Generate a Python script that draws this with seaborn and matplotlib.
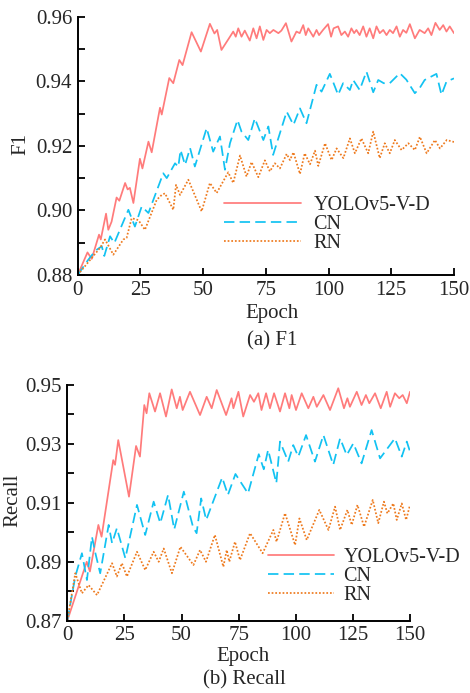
import numpy as np
import pandas as pd
import matplotlib
matplotlib.use("Agg")
import matplotlib.pyplot as plt
import seaborn as sns
from matplotlib.ticker import MultipleLocator, FormatStrFormatter

# =========================
# DATA
# =========================
models = ["YOLOv5-V-D", "CN", "RN"]

# (a) F1
f1_yolo_ep = [0, 3.9, 5.6, 8.5, 9.2, 11.3, 12.2, 13.5, 15.5, 16.6,
              18.9, 19.9, 20.8, 22.2, 24.8, 25.8, 28.2, 29.5, 32.8, 33.5,
              36.5, 38.1, 40.5, 41.8, 45.4, 49.1, 52.7, 54.5, 55.6, 57.3,
              60.7, 62, 63, 64, 65.3, 66.6, 68.6, 70, 71.3, 72.6,
              74, 75.3, 76.6, 78, 80, 81.2, 83, 85.2, 87.2, 88.5,
              89.9, 90.9, 91.9, 93.9, 95.2, 96.2, 97.8, 99.8, 101, 102,
              103.8, 105.1, 106.5, 107.8, 109.1, 110.2, 111.1, 112.4, 113.8, 115.1,
              116.4, 117.8, 119.1, 120.4, 121.8, 123.1, 124.4, 125.7, 127.1, 128.4,
              129.7, 131, 132.4, 134.4, 136.3, 138.3, 139.7, 141, 142.6, 144.3,
              145.7, 147, 148.3, 150]
f1_yolo = [0.880, 0.887, 0.885, 0.8925, 0.891, 0.899, 0.894, 0.8965, 0.904, 0.903,
           0.9085, 0.9065, 0.907, 0.9023, 0.916, 0.913, 0.9213, 0.918, 0.9318, 0.9297,
           0.941, 0.9394, 0.9466, 0.945, 0.9552, 0.9492, 0.9578, 0.9548, 0.9559, 0.9497,
           0.9538, 0.9554, 0.9538, 0.9564, 0.9538, 0.9557, 0.9526, 0.9564, 0.9533, 0.957,
           0.9528, 0.9559, 0.9549, 0.9559, 0.9549, 0.9557, 0.958, 0.9523, 0.9554, 0.9549,
           0.9574, 0.9543, 0.9564, 0.9538, 0.9559, 0.9543, 0.9559, 0.9577, 0.9538, 0.9564,
           0.957, 0.9543, 0.9554, 0.9538, 0.9564, 0.9549, 0.9559, 0.9543, 0.957, 0.9538,
           0.9564, 0.9533, 0.957, 0.9549, 0.9559, 0.9543, 0.9559, 0.9549, 0.957, 0.9538,
           0.9559, 0.955, 0.9577, 0.9533, 0.9559, 0.9549, 0.9564, 0.9543, 0.9581, 0.9559,
           0.9574, 0.9554, 0.957, 0.9549]

f1_cn_ep = [0, 4, 7, 9.6, 10.6, 12.9, 14.6, 20.2, 22.8, 25.5,
            28.2, 34.1, 35.5, 38.8, 40.1, 41, 42.8, 44.8, 46.7, 51.4,
            54, 56.7, 58.7, 60.7, 63.7, 65.3, 68, 70.6, 74, 76,
            77.9, 83.3, 86, 88.6, 91.2, 95.2, 97.2, 100.5, 102, 103.8,
            105.8, 108.5, 109.8, 112.4, 115.1, 117.8, 119.8, 122, 124.4, 128.4,
            131, 134.4, 136.4, 138.3, 143, 145, 147, 150]
f1_cn = [0.88, 0.8845, 0.8875, 0.8889, 0.8859, 0.892, 0.8899, 0.9002, 0.895, 0.9012,
         0.8992, 0.9115, 0.91, 0.9146, 0.9135, 0.9187, 0.9141, 0.9193, 0.9136, 0.9255,
         0.9182, 0.9229, 0.9126, 0.9208, 0.928, 0.9244, 0.9218, 0.9285, 0.9218, 0.926,
         0.9172, 0.9306, 0.9265, 0.9316, 0.927, 0.9389, 0.9368, 0.9423, 0.9394, 0.9358,
         0.9394, 0.9373, 0.9404, 0.9373, 0.943, 0.9366, 0.9404, 0.9394, 0.9394, 0.9425,
         0.9405, 0.9363, 0.938, 0.9404, 0.9423, 0.9358, 0.9399, 0.9409]

f1_rn_ep = [0, 8.9, 10.9, 14.2, 18.2, 19.5, 21.5, 24.2, 26.8, 31.5,
            33.5, 34.8, 38.1, 39.2, 40.8, 44.1, 49.4, 52.7, 55.4, 60,
            62, 64.7, 67.3, 69.3, 72, 74.6, 76.6, 78.6, 80.6, 83.3,
            84.6, 86, 88.6, 90.5, 92.6, 94.6, 95.9, 98.6, 101.2, 103.2,
            105.9, 108.5, 110.5, 113.1, 115.8, 117.8, 120.4, 122.4, 124.4, 126.4,
            129.1, 131.8, 134.4, 136.4, 139.1, 142.4, 144.4, 147.1, 150]
f1_rn = [0.88, 0.8884, 0.891, 0.8863, 0.891, 0.8915, 0.8976, 0.897, 0.894, 0.9033,
         0.9048, 0.9053, 0.9002, 0.9079, 0.9048, 0.9095, 0.8997, 0.9085, 0.9054, 0.9118,
         0.9085, 0.917, 0.9105, 0.915, 0.9103, 0.9155, 0.9121, 0.9146, 0.913, 0.9175,
         0.9156, 0.918, 0.9113, 0.9177, 0.9143, 0.9185, 0.9138, 0.9208, 0.9156, 0.9192,
         0.9162, 0.9223, 0.9177, 0.9223, 0.9177, 0.9244, 0.9162, 0.9208, 0.9177, 0.9218,
         0.9187, 0.9208, 0.9187, 0.9228, 0.9177, 0.9218, 0.9192, 0.9218, 0.9212]

# (b) Recall
rec_yolo_ep = [0, 8.5, 9.9, 13.6, 15, 20.1, 20.9, 22.3, 27, 30.1,
               31.8, 33.7, 34.7, 35.9, 38.4, 40.6, 43.2, 45.7, 47.9, 49.3,
               50.5, 53.7, 58.1, 61, 63.2, 65.4, 69.5, 71.9, 72.7, 74.9,
               77, 80, 81.7, 83.6, 85, 87, 88.7, 90.5, 93.1, 95.3,
               97.2, 98.2, 100.1, 102.6, 105.5, 107.7, 109.2, 112.1, 115, 118.6,
               121.1, 122.6, 123.7, 126.7, 128.8, 130.7, 132.2, 134.7, 137.2, 139.8,
               141.3, 143.4, 145.3, 146.8, 148.6, 150]
rec_yolo = [0.87, 0.89, 0.8867, 0.9025, 0.8985, 0.9245, 0.9229, 0.9313, 0.9121, 0.9293,
            0.9257, 0.9432, 0.9404, 0.9472, 0.941, 0.9472, 0.9393, 0.9485, 0.9421, 0.946,
            0.9415, 0.9477, 0.9398, 0.946, 0.9421, 0.9483, 0.9398, 0.9455, 0.9421, 0.9477,
            0.9393, 0.9466, 0.9443, 0.9472, 0.9415, 0.9472, 0.9421, 0.9472, 0.941, 0.9472,
            0.9421, 0.9466, 0.9415, 0.9472, 0.9421, 0.946, 0.9426, 0.9466, 0.9415, 0.9489,
            0.9421, 0.9455, 0.9426, 0.9477, 0.9432, 0.9466, 0.9438, 0.9472, 0.9421, 0.9477,
            0.9426, 0.9472, 0.9455, 0.9466, 0.9438, 0.9477]

rec_cn_ep = [0, 3.5, 6.4, 8.6, 10.8, 12.3, 14.4, 18.1, 19.6, 21.7,
             25.4, 30.5, 34.1, 37.8, 40.7, 44.1, 46.8, 51, 55, 56.6,
             58.6, 60.8, 67.8, 70.3, 73.6, 79.1, 83.8, 86, 87.9, 91.5,
             93.1, 96.7, 98.9, 101.1, 104.5, 108.4, 112.1, 116.4, 119.4, 122.3,
             125.2, 128.8, 133.2, 136.9, 143.4, 146.4, 148.6, 150]
rec_cn = [0.87, 0.885, 0.8929, 0.8838, 0.8985, 0.8929, 0.8861, 0.9025, 0.8963, 0.9014,
          0.8912, 0.9093, 0.8991, 0.9104, 0.9031, 0.9127, 0.901, 0.9138, 0.9019, 0.8997,
          0.9115, 0.9042, 0.9186, 0.9127, 0.9198, 0.9132, 0.9265, 0.9214, 0.928, 0.9167,
          0.9308, 0.924, 0.9296, 0.9257, 0.933, 0.924, 0.933, 0.9229, 0.9319, 0.9262,
          0.9302, 0.9234, 0.9347, 0.9251, 0.9319, 0.9257, 0.9308, 0.9274]

rec_rn_ep = [0, 3.5, 6.4, 9.3, 13, 19.6, 21.7, 23.9, 26.1, 30.5,
             34.1, 37.8, 40, 42.2, 45.8, 49.5, 55.2, 58.1, 60.7, 64.6,
             68.3, 69.8, 70.9, 73.4, 75.6, 80, 85.5, 90.2, 91.6, 95.3,
             99.7, 101.6, 104.8, 110.3, 114.3, 117.2, 119.4, 122.6, 124.5, 127,
             129.9, 133.7, 136.1, 138.6, 140.1, 142.7, 144.2, 146.4, 148.3, 150]
rec_rn = [0.87, 0.8861, 0.8793, 0.8821, 0.8787, 0.8895, 0.885, 0.8895, 0.885, 0.8934,
          0.8872, 0.8934, 0.89, 0.8945, 0.8861, 0.8951, 0.8889, 0.894, 0.89, 0.8991,
          0.8883, 0.894, 0.89, 0.8968, 0.8906, 0.8997, 0.8929, 0.9008, 0.8968, 0.9065,
          0.8957, 0.9047, 0.8974, 0.9076, 0.9008, 0.9087, 0.9008, 0.9076, 0.9025, 0.9093,
          0.9019, 0.911, 0.9031, 0.9104, 0.9064, 0.9098, 0.9042, 0.9098, 0.9042, 0.9093]

# tick labels
f1_ticks = [0.88, 0.90, 0.92, 0.94, 0.96]
rec_ticks = [0.87, 0.89, 0.91, 0.93, 0.95]
epoch_ticks = [0, 25, 50, 75, 100, 125, 150]

# =========================
# STYLE
# =========================
sns.set_style("ticks")
plt.rcParams["font.family"] = ["Liberation Serif", "DejaVu Serif"]
plt.rcParams["font.size"] = 15

colors = {"YOLOv5-V-D": "#ff7b7b", "CN": "#12c2f2", "RN": "#ee7a1e"}
dashes = {"YOLOv5-V-D": "", "CN": (6, 3), "RN": (1, 1.1)}


def long_form(eps, vals, col):
    frames = []
    for m, e, v in zip(models, eps, vals):
        frames.append(pd.DataFrame({"Epoch": e, col: v, "Model": m}))
    return pd.concat(frames, ignore_index=True)


df_f1 = long_form([f1_yolo_ep, f1_cn_ep, f1_rn_ep], [f1_yolo, f1_cn, f1_rn], "F1")
df_rec = long_form([rec_yolo_ep, rec_cn_ep, rec_rn_ep], [rec_yolo, rec_cn, rec_rn], "Recall")

fig = plt.figure(figsize=(4.7, 6.93), dpi=100)
ax1 = fig.add_axes([77.7 / 470, 1 - 275 / 693, 376.3 / 470, 258.3 / 693])
ax2 = fig.add_axes([67.3 / 470, 1 - 620.7 / 693, 342.7 / 470, 235.7 / 693])


def draw(ax, df, col, yticks, leg_anchor, hlen, lspace, tpad):
    sns.lineplot(data=df, x="Epoch", y=col, hue="Model", style="Model",
                 palette=colors, dashes=dashes, hue_order=models, style_order=models,
                 linewidth=1.25, ax=ax, estimator=None, sort=False)
    ax.set_xlim(epoch_ticks[0], epoch_ticks[-1])
    ax.set_ylim(yticks[0], yticks[-1])
    ax.set_xticks(epoch_ticks)
    ax.set_yticks(yticks)
    ax.yaxis.set_minor_locator(MultipleLocator(0.01))
    ax.yaxis.set_major_formatter(FormatStrFormatter("%.2f"))
    ax.tick_params(which="both", direction="in", length=5, width=1.3,
                   labelsize=15, pad=4, color="black")
    for side in ["top", "right"]:
        ax.spines[side].set_visible(False)
    for side in ["left", "bottom"]:
        ax.spines[side].set_linewidth(1.4)
        ax.spines[side].set_color("black")
    ax.set_xlabel("Epoch", fontsize=15)
    ax.set_ylabel(col, fontsize=15)
    handles, labels = ax.get_legend_handles_labels()
    ax.legend(handles, labels, loc="upper left", bbox_to_anchor=leg_anchor,
              bbox_transform=fig.transFigure, frameon=False, fontsize=14.5,
              borderpad=0, borderaxespad=0, handlelength=hlen,
              labelspacing=lspace, handletextpad=tpad)


draw(ax1, df_f1, "F1", f1_ticks, (224 / 470, 1 - 196 / 693), 3.8, 0.0, 0.65)
draw(ax2, df_rec, "Recall", rec_ticks, (268 / 470, 1 - 548 / 693), 3.3, 0.0, 0.45)

ax1.xaxis.set_label_coords(0.516, -0.112)
ax1.yaxis.set_label_coords(-0.125, 0.507)
ax2.xaxis.set_label_coords(0.513, -0.112)
ax2.yaxis.set_label_coords(-0.132, 0.512)

fig.text(272 / 470, 1 - 341 / 693, "(a) F1", ha="center", va="center", fontsize=15)
fig.text(244 / 470, 1 - 680 / 693, "(b) Recall", ha="center", va="center", fontsize=15)

fig.savefig("out.png", dpi=100)
